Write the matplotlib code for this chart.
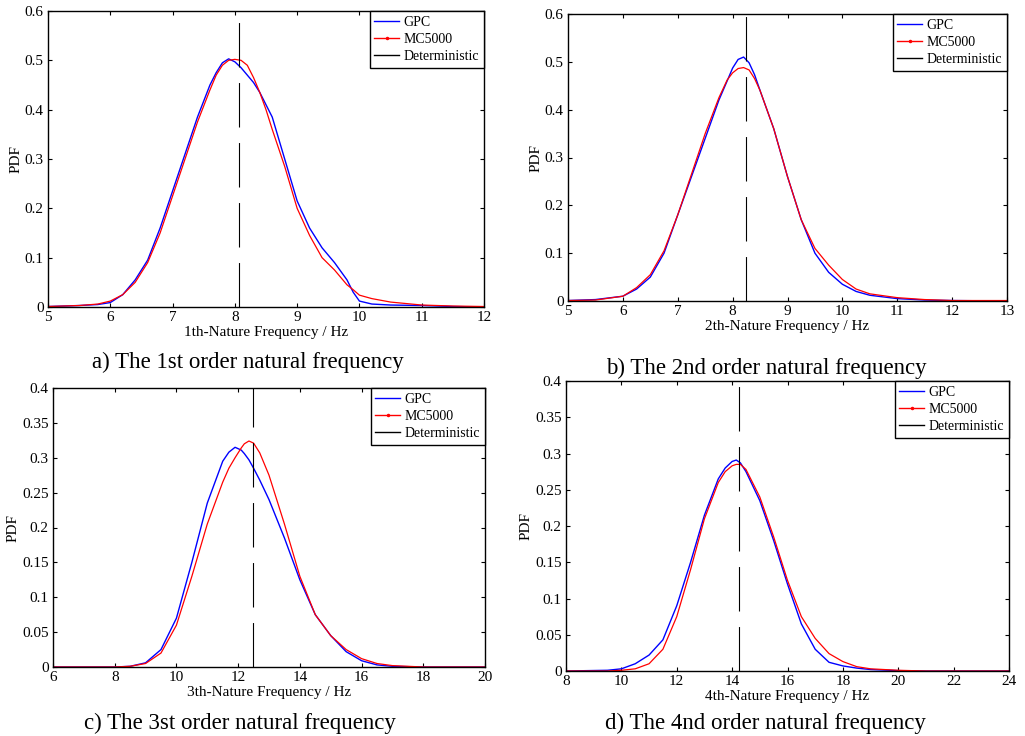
import matplotlib
matplotlib.use("Agg")
import matplotlib.pyplot as plt
from matplotlib.lines import Line2D

plt.rcParams['font.family'] = ['Liberation Serif', 'DejaVu Serif']

# ---- data ----
# a) 1st order
x1 = [5, 5.5, 5.8, 6, 6.2, 6.4, 6.6, 6.8, 7, 7.2, 7.4, 7.6, 7.7, 7.8, 7.9, 8, 8.1, 8.2, 8.3, 8.4,
      8.5, 8.6, 8.8, 9, 9.2, 9.4, 9.6, 9.8, 9.9, 10, 10.2, 10.5, 11, 11.5, 12]
gpc1 = [0.001, 0.003, 0.005, 0.009, 0.025, 0.055, 0.095, 0.16, 0.235, 0.31, 0.385, 0.45, 0.475,
        0.495, 0.503, 0.497, 0.485, 0.47, 0.455, 0.435, 0.41, 0.385, 0.30, 0.215, 0.16, 0.12,
        0.09, 0.055, 0.03, 0.012, 0.006, 0.004, 0.003, 0.001, 0.0]
mc1 = [0.001, 0.003, 0.006, 0.012, 0.025, 0.05, 0.09, 0.15, 0.225, 0.30, 0.375, 0.44, 0.47,
       0.49, 0.50, 0.502, 0.50, 0.49, 0.465, 0.435, 0.40, 0.36, 0.285, 0.20, 0.145, 0.10, 0.075,
       0.045, 0.035, 0.024, 0.017, 0.01, 0.004, 0.002, 0.001]
det1 = 8.06

# b) 2nd order
x2 = [5, 5.5, 6, 6.25, 6.5, 6.75, 7, 7.25, 7.5, 7.75, 7.9, 8, 8.1, 8.2, 8.3, 8.4, 8.5, 8.75, 9,
      9.25, 9.5, 9.75, 10, 10.25, 10.5, 11, 11.5, 12, 13]
gpc2 = [0.001, 0.003, 0.01, 0.025, 0.05, 0.10, 0.18, 0.26, 0.34, 0.42, 0.46, 0.487, 0.505, 0.51,
        0.498, 0.473, 0.44, 0.36, 0.26, 0.17, 0.10, 0.06, 0.035, 0.02, 0.012, 0.005, 0.002,
        0.001, 0.0]
mc2 = [0.001, 0.002, 0.01, 0.028, 0.055, 0.105, 0.18, 0.265, 0.35, 0.425, 0.462, 0.477, 0.486,
       0.488, 0.483, 0.465, 0.44, 0.36, 0.26, 0.17, 0.11, 0.075, 0.045, 0.025, 0.015, 0.007,
       0.003, 0.001, 0.001]
det2 = 8.25

# c) 3rd order
x3 = [6, 8, 8.5, 9, 9.5, 10, 10.5, 11, 11.5, 11.7, 11.9, 12.1, 12.2, 12.35, 12.5, 12.7, 13,
      13.5, 14, 14.5, 15, 15.5, 16, 16.5, 17, 18, 20]
gpc3 = [0, 0, 0.001, 0.006, 0.025, 0.07, 0.15, 0.235, 0.295, 0.308, 0.315, 0.311, 0.306, 0.297,
        0.285, 0.268, 0.24, 0.185, 0.125, 0.075, 0.045, 0.022, 0.009, 0.003, 0.001, 0, 0]
mc3 = [0, 0, 0.001, 0.005, 0.02, 0.06, 0.13, 0.205, 0.265, 0.285, 0.30, 0.314, 0.32, 0.324,
       0.321, 0.307, 0.275, 0.205, 0.13, 0.075, 0.045, 0.025, 0.012, 0.005, 0.002, 0, 0]
det3 = 12.47

# d) 4th order
x4 = [8, 9.5, 10, 10.5, 11, 11.5, 12, 12.5, 13, 13.5, 13.75, 14, 14.15, 14.3, 14.5, 15, 15.5,
      16, 16.5, 17, 17.5, 18, 18.5, 19, 20, 21, 24]
gpc4 = [0, 0.001, 0.003, 0.01, 0.022, 0.043, 0.09, 0.15, 0.215, 0.265, 0.28, 0.289, 0.291,
        0.287, 0.275, 0.235, 0.18, 0.12, 0.065, 0.03, 0.012, 0.007, 0.004, 0.002, 0.0005, 0, 0]
mc4 = [0, 0, 0.001, 0.003, 0.01, 0.03, 0.075, 0.14, 0.21, 0.26, 0.275, 0.283, 0.285, 0.285,
       0.278, 0.24, 0.185, 0.125, 0.075, 0.045, 0.024, 0.013, 0.006, 0.003, 0.001, 0, 0]
det4 = 14.25

yt6 = [0, 0.1, 0.2, 0.3, 0.4, 0.5, 0.6]
yt6_lab = ['0', '0.1', '0.2', '0.3', '0.4', '0.5', '0.6']
yt4 = [0, 0.05, 0.1, 0.15, 0.2, 0.25, 0.3, 0.35, 0.4]
yt4_lab = ['0', '0.05', '0.1', '0.15', '0.2', '0.25', '0.3', '0.35', '0.4']

panels = [
    (x1, gpc1, mc1, det1, (5, 12), list(range(5, 13)), (0, 0.6), yt6, yt6_lab,
     '1th-Nature Frequency / Hz', 'a) The 1st order natural frequency'),
    (x2, gpc2, mc2, det2, (5, 13), list(range(5, 14)), (0, 0.6), yt6, yt6_lab,
     '2th-Nature Frequency / Hz', 'b) The 2nd order natural frequency'),
    (x3, gpc3, mc3, det3, (6, 20), list(range(6, 21, 2)), (0, 0.4), yt4, yt4_lab,
     '3th-Nature Frequency / Hz', 'c) The 3st order natural frequency'),
    (x4, gpc4, mc4, det4, (8, 24), list(range(8, 25, 2)), (0, 0.4), yt4, yt4_lab,
     '4th-Nature Frequency / Hz', 'd) The 4nd order natural frequency'),
]

W, H = 1025, 736
# axes boxes in pixels: left, top, right, bottom
boxes = [(48, 11, 484, 307), (568, 14, 1007, 301), (53, 388, 485, 667), (566, 381, 1009, 671)]
captions_pos = [(248, 368), (766, 374), (240, 729), (765, 729)]

fig = plt.figure(figsize=(W / 100, H / 100), dpi=100)

for p, box, cp in zip(panels, boxes, captions_pos):
    x, g, m, d, xl, xt, yl, yt, ytl, xlab, cap = p
    l, t, r, b = box
    ax = fig.add_axes([l / W, 1 - b / H, (r - l) / W, (b - t) / H])
    ax.plot(x, g, color='#0000ff', lw=1.0)
    ax.plot(x, m, color='#ff0000', lw=0.9)
    ax.axvline(d, color='black', lw=0.8, linestyle=(0, (40, 14)))
    ax.set_xlim(*xl)
    ax.set_ylim(*yl)
    ax.set_xticks(xt)
    ax.set_xticklabels([str(v) for v in xt])
    ax.set_yticks(yt)
    ax.set_yticklabels(ytl)
    ax.tick_params(direction='in', top=True, right=True, length=3, width=0.8,
                   labelsize=11, pad=3)
    for s in ax.spines.values():
        s.set_linewidth(1.0)
    ax.set_xlabel(xlab, fontsize=11, labelpad=1)
    ax.set_ylabel('PDF', fontsize=11, labelpad=2)
    handles = [Line2D([], [], color='#0000ff', lw=1.0),
               Line2D([], [], color='#ff0000', lw=1.0, marker='.', markersize=3),
               Line2D([], [], color='black', lw=1.0)]
    leg = ax.legend(handles, ['GPC', 'MC5000', 'Deterministic'], loc='upper right',
                    fontsize=10, fancybox=False, edgecolor='black', framealpha=1,
                    borderaxespad=0, borderpad=0.35, labelspacing=0.3,
                    handlelength=1.8, handletextpad=0.3, numpoints=1)
    leg.get_frame().set_linewidth(1.0)
    fig.text(cp[0] / W, 1 - cp[1] / H, cap, ha='center', va='baseline', fontsize=16.5)

fig.savefig('out.png', dpi=100)
